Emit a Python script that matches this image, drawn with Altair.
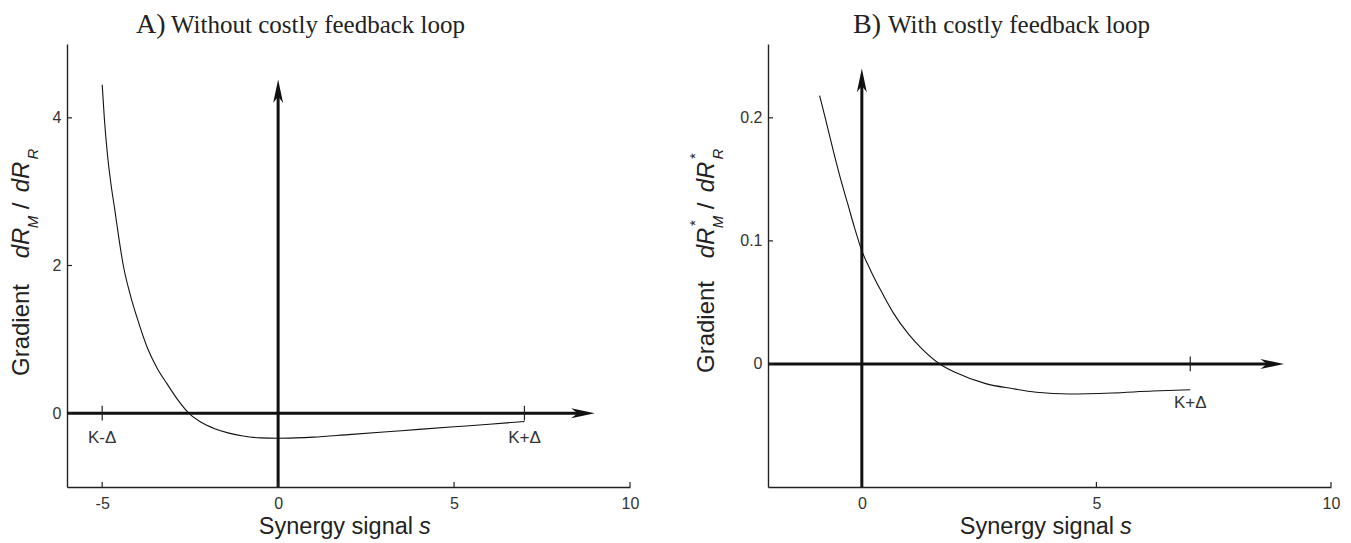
import altair as alt
import pandas as pd

# ---------------- data ----------------
# Panel A: gradient without costly feedback loop
a_s = [-5.0, -4.94, -4.85, -4.75, -4.64, -4.52, -4.40, -4.2, -4.0, -3.72, -3.45, -3.16,
       -2.85, -2.54, -2.2, -1.8, -1.4, -1.0, -0.5, 0.0, 0.5, 1.0, 2.0, 3.0, 4.0, 5.0, 6.0, 7.0]
a_g = [4.45, 4.0, 3.5, 3.1, 2.75, 2.35, 2.0, 1.6, 1.28, 0.89, 0.62, 0.40,
       0.18, 0.0, -0.12, -0.21, -0.27, -0.31, -0.335, -0.34, -0.335, -0.325, -0.29, -0.255,
       -0.22, -0.185, -0.15, -0.113]

# Panel B: gradient with costly feedback loop
b_s = [-0.9, -0.78, -0.6, -0.45, -0.3, -0.15, 0.0, 0.2, 0.4, 0.67, 1.0, 1.25, 1.66,
       2.0, 2.64, 3.2, 3.72, 4.43, 5.33, 6.2, 7.0]
b_g = [0.218, 0.2, 0.172, 0.15, 0.13, 0.11, 0.092, 0.075, 0.060, 0.0415, 0.024, 0.0135, 0.0,
       -0.007, -0.016, -0.020, -0.023, -0.0244, -0.0236, -0.022, -0.021]

a_xticks = [-5, 0, 5, 10]
a_yticks = [0, 2, 4]
b_xticks = [0, 5, 10]
b_yticks = [0, 0.1, 0.2]

a_xdomain = [-6, 10]
a_ydomain = [-1, 5]
b_xdomain = [-2, 10]
b_ydomain = [-0.1, 0.26]

a_k_marks = [-5, 7]
a_k_labels = ["K-\u0394", "K+\u0394"]
b_k_marks = [7]
b_k_labels = ["K+\u0394"]

SANS = "Liberation Sans"
SERIF = "Liberation Serif"
W, H = 563, 443

ARROW_RIGHT = "M0,0 L-2,-0.42 L-1.45,0 L-2,0.42 Z"
ARROW_UP = "M0,0 L-0.42,2 L0,1.45 L0.42,2 Z"


def txt(t, x, y, size, font=SANS, style="normal", angle=0, align="center",
        baseline="middle", color="#222"):
    return alt.Chart(pd.DataFrame({"t": [t]})).mark_text(
        text=t, font=font, fontSize=size, fontStyle=style, angle=angle,
        align=align, baseline=baseline, color=color
    ).encode(x=alt.value(x), y=alt.value(y))


def panel(s, g, xdom, ydom, xticks, yticks, arrow_x_tip, arrow_x_end,
          arrow_y_tip, arrow_y_end, kmarks, klabels, k_dy, k_label_y,
          title_parts, ytitle_parts):
    xs = alt.Scale(domain=xdom, nice=False, zero=False)
    ys = alt.Scale(domain=ydom, nice=False, zero=False)
    xaxis = alt.Axis(values=xticks, title=None, ticks=False, grid=False,
                     labelFont=SANS, labelFontSize=16, labelColor="#333",
                     labelPadding=8, domainColor="#222", domainWidth=1.4,
                     labelFlush=False, labelExpr="'' + datum.value")
    yaxis = alt.Axis(values=yticks, title=None, ticks=False, grid=False,
                     labelFont=SANS, labelFontSize=16, labelColor="#333",
                     labelPadding=6, domainColor="#222", domainWidth=1.4,
                     labelFlush=False, labelExpr="'' + datum.value")

    def X(f):
        return alt.X(f, scale=xs, axis=xaxis)

    def Y(f):
        return alt.Y(f, scale=ys, axis=yaxis)

    curve = alt.Chart(pd.DataFrame({"s": s, "g": g})).mark_line(
        color="#111", strokeWidth=1.1, interpolate="monotone"
    ).encode(x=X("s:Q"), y=Y("g:Q"))

    harrow = alt.Chart(pd.DataFrame({"s": [xdom[0]], "s2": [arrow_x_end], "g": [0]})).mark_rule(
        color="#111", strokeWidth=3
    ).encode(x=X("s:Q"), x2="s2:Q", y=Y("g:Q"))
    hhead = alt.Chart(pd.DataFrame({"s": [arrow_x_tip], "g": [0]})).mark_point(
        shape=ARROW_RIGHT, filled=True, size=560, color="#111", opacity=1, strokeWidth=0
    ).encode(x=X("s:Q"), y=Y("g:Q"))

    varrow = alt.Chart(pd.DataFrame({"s": [0], "g": [ydom[0]], "g2": [arrow_y_end]})).mark_rule(
        color="#111", strokeWidth=3
    ).encode(x=X("s:Q"), y=Y("g:Q"), y2="g2:Q")
    vhead = alt.Chart(pd.DataFrame({"s": [0], "g": [arrow_y_tip]})).mark_point(
        shape=ARROW_UP, filled=True, size=560, color="#111", opacity=1, strokeWidth=0
    ).encode(x=X("s:Q"), y=Y("g:Q"))

    kdf = pd.DataFrame({"s": kmarks, "g": [-k_dy] * len(kmarks), "g2": [k_dy] * len(kmarks),
                        "lab": klabels, "ly": [k_label_y] * len(kmarks)})
    kticks = alt.Chart(kdf).mark_rule(color="#222", strokeWidth=1.2).encode(
        x=X("s:Q"), y=Y("g:Q"), y2="g2:Q")
    klab = alt.Chart(kdf).mark_text(font=SANS, fontSize=17, color="#333").encode(
        x=X("s:Q"), y=Y("ly:Q"), text="lab:N")

    bticks = alt.Chart(pd.DataFrame({"s": xticks})).mark_rule(color="#222", strokeWidth=1.2).encode(
        x=X("s:Q"), y=alt.value(H), y2=alt.value(H - 5))
    lticks = alt.Chart(pd.DataFrame({"g": yticks})).mark_rule(color="#222", strokeWidth=1.2).encode(
        y=Y("g:Q"), x=alt.value(0), x2=alt.value(5))

    layers = [curve, harrow, varrow, hhead, vhead, kticks, klab, bticks, lticks]
    # title
    (t1, x1, s1), (t2, x2, s2) = title_parts
    layers.append(txt(t1, x1, -11, s1, font=SERIF, align="left", baseline="alphabetic", color="#222"))
    layers.append(txt(t2, x2, -11, s2, font=SERIF, align="left", baseline="alphabetic", color="#222"))
    # x-axis title
    layers.append(txt("Synergy signal", 346, 483, 23.5, align="right", color="#222"))
    layers.append(txt("s", 352, 483, 23.5, style="italic", align="left", color="#222"))
    # y-axis title pieces
    for (t, x, y, size, style) in ytitle_parts:
        layers.append(txt(t, x, y, size, style=style, angle=270, color="#222"))

    return alt.layer(*layers).properties(width=W, height=H)


left = panel(
    a_s, a_g, a_xdomain, a_ydomain, a_xticks, a_yticks,
    9.0, 8.6, 4.52, 4.3, a_k_marks, a_k_labels, 0.1, -0.34,
    [("A)", 69, 28), ("Without costly feedback loop", 104, 25)],
    [("Gradient", -45, 286, 24, "normal"),
     ("dR", -45, 199, 24, "italic"),
     ("M", -34, 178, 15, "italic"),
     ("/", -45, 162, 24, "normal"),
     ("dR", -45, 133, 24, "italic"),
     ("R", -34, 110, 15, "italic")],
)

right = panel(
    b_s, b_g, b_xdomain, b_ydomain, b_xticks, b_yticks,
    9.0, 8.7, 0.24, 0.228, b_k_marks, b_k_labels, 0.006, -0.0317,
    [("B)", 85, 28), ("With costly feedback loop", 120, 25)],
    [("Gradient", -61, 283, 24, "normal"),
     ("dR", -61, 199, 24, "italic"),
     ("*", -73, 179, 15, "normal"),
     ("M", -50, 178, 15, "italic"),
     ("/", -61, 162, 24, "normal"),
     ("dR", -61, 133, 24, "italic"),
     ("*", -73, 112, 15, "normal"),
     ("R", -50, 110, 15, "italic")],
)

chart = alt.hconcat(left, right, spacing=49).properties(
    padding={"left": 2, "top": 3, "right": 0, "bottom": 0}
).configure_view(stroke=None)

chart.save("out.html", embed_options={"renderer": "svg", "actions": False})
